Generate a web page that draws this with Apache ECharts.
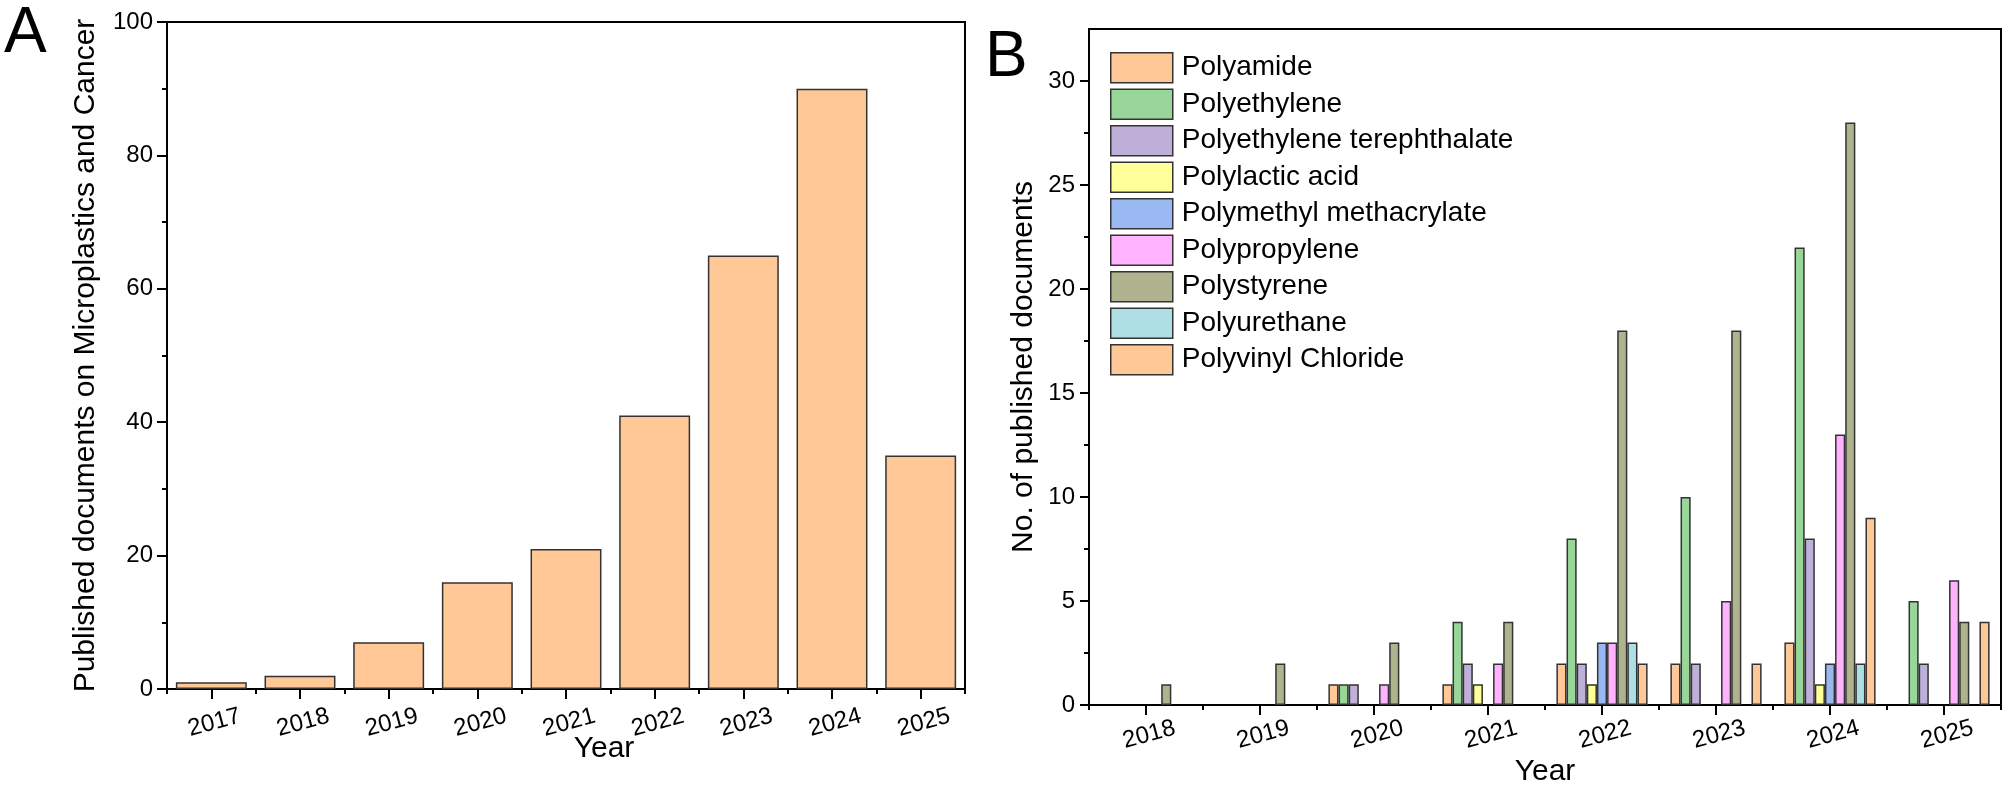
<!DOCTYPE html>
<html>
<head>
<meta charset="utf-8">
<script src="https://cdn.jsdelivr.net/npm/echarts@6/dist/echarts.min.js"></script>
<style>
html,body{margin:0;padding:0;background:#fff;}
#main{width:2008px;height:794px;}
</style>
</head>
<body>
<div id="main"></div>
<script>
// ---- Data ----
var yearsA = ['2017','2018','2019','2020','2021','2022','2023','2024','2025'];
var docsA = [1, 2, 7, 16, 21, 41, 65, 90, 35];

var yearsB = ['2018','2019','2020','2021','2022','2023','2024','2025'];
var polyamide    = [0, 0, 1, 1, 2, 2, 3, 0];
var polyethylene = [0, 0, 1, 4, 8, 10, 22, 5];
var pet          = [0, 0, 1, 2, 2, 2, 8, 2];
var pla          = [0, 0, 0, 1, 1, 0, 1, 0];
var pmma         = [0, 0, 0, 0, 3, 0, 2, 0];
var pp           = [0, 0, 1, 2, 3, 5, 13, 6];
var ps           = [1, 2, 3, 4, 18, 18, 28, 4];
var pu           = [0, 0, 0, 0, 3, 0, 2, 0];
var pvc          = [0, 0, 0, 0, 2, 2, 9, 4];

var seriesNames = ['Polyamide','Polyethylene','Polyethylene terephthalate','Polylactic acid',
  'Polymethyl methacrylate','Polypropylene','Polystyrene','Polyurethane','Polyvinyl Chloride'];
var seriesData = [polyamide, polyethylene, pet, pla, pmma, pp, ps, pu, pvc];
var seriesColors = ['#FFC896','#99D699','#BEB0D8','#FFFF99','#99B8F2','#FFB3FF','#AFB38E','#ADDFE5','#FFC896'];

var yTicksB = [0, 5, 10, 15, 20, 25, 30];
var yMinorB = [2.5, 7.5, 12.5, 17.5, 22.5, 27.5];

var FONT = 'Arial, "Liberation Sans", sans-serif';
var chart = echarts.init(document.getElementById('main'), null, {renderer: 'canvas'});

var axisLine = {show: true, lineStyle: {color: '#000', width: 2}};

var seriesB = seriesNames.map(function (n, i) {
  return {
    name: n, type: 'bar', xAxisIndex: 2, yAxisIndex: 1,
    barGap: '0%', barCategoryGap: '20%',
    itemStyle: {color: seriesColors[i], borderColor: '#333', borderWidth: 1.5},
    data: seriesData[i].map(function (v) { return v === 0 ? '-' : v; })
  };
});

var option = {
  backgroundColor: '#fff',
  animation: false,
  textStyle: {fontFamily: FONT, color: '#000'},
  graphic: [
    {type: 'text', left: 4, top: 2, style: {text: 'A', font: '64px ' + FONT, fill: '#000'}},
    {type: 'text', left: 985, top: 26, style: {text: 'B', font: '64px ' + FONT, fill: '#000'}}
  ],
  legend: {
    orient: 'vertical', left: 1105, top: 47,
    itemWidth: 62, itemHeight: 30, itemGap: 5,
    icon: 'rect',
    itemStyle: {borderColor: '#333', borderWidth: 1.5},
    textStyle: {fontSize: 28, color: '#000', fontFamily: FONT, padding: [0, 0, 0, 4]},
    data: seriesNames
  },
  grid: [
    {left: 167, right: 1043, top: 22, bottom: 105, show: true, borderColor: '#000', borderWidth: 2, backgroundColor: 'transparent'},
    {left: 1089, right: 7, top: 29, bottom: 89, show: true, borderColor: '#000', borderWidth: 2, backgroundColor: 'transparent'}
  ],
  xAxis: [
    {
      type: 'category', gridIndex: 0, data: yearsA, position: 'bottom',
      name: 'Year', nameLocation: 'middle', nameGap: 45, nameMoveOverlap: false,
      nameTextStyle: {fontSize: 30, color: '#000', fontFamily: FONT, padding: [0, 0, 0, 76]},
      axisLine: axisLine,
      axisTick: {show: true, alignWithLabel: true, length: 10, lineStyle: {color: '#000', width: 2}},
      axisLabel: {fontSize: 24, color: '#000', rotate: 15, align: 'center', verticalAlign: 'top', margin: 22, fontFamily: FONT}
    },
    {
      type: 'category', gridIndex: 0, data: yearsA, position: 'bottom', offset: 0,
      axisLine: {show: false},
      axisTick: {show: true, length: 5, lineStyle: {color: '#000', width: 2}},
      axisLabel: {show: false}
    },
    {
      type: 'category', gridIndex: 1, data: yearsB, position: 'bottom',
      name: 'Year', nameLocation: 'middle', nameGap: 52, nameMoveOverlap: false,
      nameTextStyle: {fontSize: 30, color: '#000', fontFamily: FONT},
      axisLine: axisLine,
      axisTick: {show: true, alignWithLabel: true, length: 10, lineStyle: {color: '#000', width: 2}},
      axisLabel: {fontSize: 24, color: '#000', rotate: 15, align: 'center', verticalAlign: 'top', margin: 18, fontFamily: FONT}
    },
    {
      type: 'category', gridIndex: 1, data: yearsB, position: 'bottom', offset: 0,
      axisLine: {show: false},
      axisTick: {show: true, length: 5, lineStyle: {color: '#000', width: 2}},
      axisLabel: {show: false}
    }
  ],
  yAxis: [
    {
      type: 'value', gridIndex: 0, min: 0, max: 100, interval: 20, position: 'left',
      name: 'Published documents on Microplastics and Cancer', nameLocation: 'middle', nameGap: 66,
      nameTextStyle: {fontSize: 30, color: '#000', fontFamily: FONT},
      axisLine: axisLine,
      axisTick: {show: true, length: 10, lineStyle: {color: '#000', width: 2}},
      minorTick: {show: true, splitNumber: 2, length: 5, lineStyle: {color: '#000', width: 2}},
      splitLine: {show: false},
      axisLabel: {fontSize: 24, color: '#000', margin: 14, fontFamily: FONT}
    },
    {
      type: 'value', gridIndex: 1, min: 0, max: 32.5, position: 'left',
      name: 'No. of published documents', nameLocation: 'middle', nameGap: 50,
      nameTextStyle: {fontSize: 30, color: '#000', fontFamily: FONT},
      axisLine: axisLine,
      axisTick: {show: true, length: 9, customValues: yTicksB, lineStyle: {color: '#000', width: 2}},
      splitLine: {show: false},
      axisLabel: {fontSize: 24, color: '#000', margin: 14, customValues: yTicksB, fontFamily: FONT}
    },
    {
      type: 'value', gridIndex: 1, min: 0, max: 32.5, position: 'left', offset: 0,
      axisLine: {show: false},
      axisTick: {show: true, length: 5, customValues: yMinorB, lineStyle: {color: '#000', width: 2}},
      splitLine: {show: false},
      axisLabel: {show: false}
    }
  ],
  series: [
    {
      name: 'Published documents', type: 'bar', xAxisIndex: 0, yAxisIndex: 0,
      barCategoryGap: '20%',
      itemStyle: {color: '#FFC896', borderColor: '#333', borderWidth: 1.5},
      data: docsA
    }
  ].concat(seriesB)
};
chart.setOption(option);
</script>
</body>
</html>
